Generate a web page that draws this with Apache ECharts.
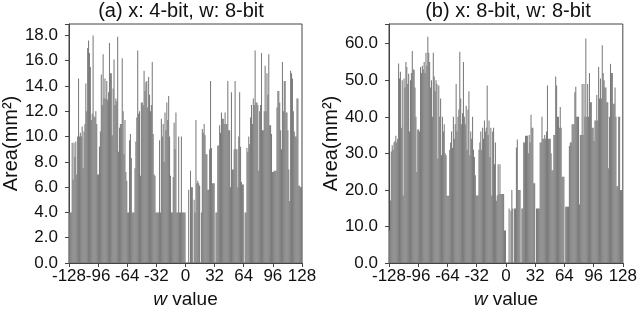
<!DOCTYPE html>
<html><head><meta charset="utf-8">
<script src="https://cdn.jsdelivr.net/npm/echarts@6/dist/echarts.min.js"></script>
<style>html,body{margin:0;padding:0;background:#fff}#c{width:640px;height:318px}</style>
</head><body><div id="c"></div><script>
// first w value of each panel (w runs -128 .. 127)
const wFirst = -128;
const titleA = '(a) x: 4-bit, w: 8-bit';
const titleB = '(b) x: 8-bit, w: 8-bit';

// Panel (a): area for w = -128..-97, -96..-65, ... , 96..127
const a1 = [4.0,4.0,4.0,9.5,6.6,9.5,8.4,9.6,7.0,10.0,14.6,10.0,10.3,10.0,10.8,7.5,10.4,11.0,14.2,12.0,17.0,17.6,16.6,15.5,11.3,11.8,18.0,11.6,11.5,12.0,11.0,7.0];
const a2 = [7.0,9.2,10.4,14.9,12.5,16.5,13.0,14.6,13.0,14.4,12.9,13.5,17.4,15.0,15.0,10.1,13.8,16.1,12.5,13.0,12.8,17.9,8.8,10.7,11.0,11.0,16.2,12.0,8.6,11.3,7.2,6.5];
const a3 = [4.0,4.0,9.7,10.2,8.3,4.0,4.0,4.0,7.5,9.6,11.5,16.8,11.8,12.0,6.9,12.7,12.7,12.5,15.2,13.6,14.3,14.4,12.3,14.7,13.3,12.0,12.5,15.9,10.2,7.0,6.9,4.0];
const a4 = [4.0,4.0,4.0,9.7,4.0,11.4,10.0,11.0,8.0,11.9,10.5,12.7,11.3,13.2,10.0,6.9,4.0,4.0,6.8,11.1,9.0,11.9,4.0,4.0,10.0,4.0,4.0,10.0,4.0,4.0,4.0,4.0];
const a5 = [0,0,0,5.8,0,7.3,6.0,6.0,0,5.0,4.0,11.3,6.3,6.5,6.3,6.1,0,4.0,10.6,10.3,11.0,10.1,8.6,8.6,5.8,5.8,9.0,14.4,9.1,6.3,6.3,6.3];
const a6 = [0,4.0,4.0,9.3,9.3,10.9,10.3,11.9,11.4,11.4,11.0,11.9,11.0,11.0,14.4,10.5,10.5,6.0,13.5,7.4,7.4,9.0,14.4,9.0,9.0,6.0,10.0,13.5,9.2,6.4,6.2,6.2];
const a7 = [0,4.0,4.0,9.1,8.8,10.0,9.4,11.5,12.5,11.0,13.0,12.5,16.8,12.7,12.7,12.5,7.3,12.0,12.5,16.6,10.5,10.5,12.0,15.6,12.0,15.0,13.3,16.5,10.9,10.9,10.2,7.2];
const a8 = [7.2,7.3,7.3,7.3,12.3,13.6,13.6,12.7,10.5,9.0,15.9,12.0,14.4,14.4,11.9,11.9,10.5,7.4,4.9,15.2,15.0,14.6,12.0,10.4,10.0,10.0,13.0,13.0,6.1,6.1,6.0,6.0];

// Panel (b)
const b1 = [8.9,17.1,30.5,32.2,31.0,33.0,33.4,34.8,33.0,34.0,54.6,50.5,52.3,37.0,50.0,18.5,50.5,48.0,55.0,53.6,49.0,51.8,36.0,50.0,52.0,58.0,53.0,52.8,48.0,40.0,24.9,36.5];
const b2 = [36.5,36.0,53.6,52.0,54.0,53.0,55.0,52.0,57.5,54.0,61.9,57.5,55.0,48.0,50.0,40.0,57.5,51.0,47.0,50.0,49.0,28.5,48.6,40.0,45.0,29.5,40.0,36.0,38.0,30.0,29.5,18.4];
const b3 = [18.4,18.4,31.0,33.0,36.0,31.5,40.0,34.0,38.0,49.0,36.0,40.0,42.0,57.8,45.0,38.0,41.0,55.0,40.0,38.0,43.0,31.0,42.0,47.0,29.5,36.0,34.0,40.0,31.0,29.0,24.0,18.5];
const b4 = [18.5,18.5,31.0,33.0,36.0,31.0,37.0,34.0,39.0,36.0,37.0,48.6,35.0,39.0,29.0,37.0,18.5,36.0,37.0,27.0,33.0,17.0,18.5,27.0,18.9,27.0,18.9,18.9,18.9,18.9,8.9,8.9];
const b5 = [0,0,0,14.9,0,14.4,20.0,14.9,0,14.9,14.9,31.6,33.8,20.0,20.0,20.0,0,14.9,14.9,33.0,33.0,34.8,34.8,34.8,30.0,35.0,33.0,40.6,37.0,37.0,21.8,21.8];
const b6 = [0,14.9,14.9,14.9,14.9,33.0,33.0,40.0,34.0,34.0,35.0,34.0,36.0,48.6,34.0,34.0,34.0,30.0,25.4,25.4,35.0,35.0,51.0,48.6,40.0,40.0,37.0,42.7,37.0,23.6,23.6,23.6];
const b7 = [0,15.4,15.4,15.4,15.4,32.0,33.0,33.0,38.0,38.0,38.0,46.7,48.2,40.0,40.0,40.0,16.0,35.0,35.0,49.0,35.0,49.0,40.0,61.4,40.0,49.0,40.0,52.0,44.0,44.0,37.0,37.0];
const b8 = [33.4,39.0,39.0,46.0,39.0,53.6,45.0,50.5,45.0,59.6,52.0,50.0,48.0,48.0,44.0,44.0,25.9,40.0,54.5,52.0,52.0,43.6,43.6,48.0,40.0,21.0,21.0,40.0,40.0,20.0,20.0,20.0];

const areaA = [].concat(a1,a2,a3,a4,a5,a6,a7,a8);
const areaB = [].concat(b1,b2,b3,b4,b5,b6,b7,b8);

// each bar covers [w, w+1] on the value axis
const toPairs = arr => arr.map((v, i) => [wFirst + i + 0.5, v]);

const FONT = '"Liberation Sans", Arial, sans-serif';
const AX = '#444';
const TXT = '#111';
function xAx(gi) {
  return {
    type: 'value', gridIndex: gi, min: -128, max: 128, interval: 32,
    axisLine: {show: true, onZero: false, lineStyle: {color: AX}},
    axisTick: {show: true, inside: false, length: 4, lineStyle: {color: AX}},
    splitLine: {show: false},
    axisLabel: {fontSize: 17, color: TXT, fontFamily: FONT, margin: 5,
      showMinLabel: true, showMaxLabel: true, hideOverlap: false},
    name: '{i|w} value', nameLocation: 'middle', nameGap: 27,
    nameTextStyle: {fontSize: 19, color: TXT, fontFamily: FONT,
      rich: {i: {fontStyle: 'italic', fontSize: 19, color: TXT, fontFamily: FONT}}}
  };
}
function yAx(gi, max, step, gap) {
  return {
    type: 'value', gridIndex: gi, min: 0, max: max, interval: step,
    axisLine: {show: true, onZero: false, lineStyle: {color: AX}},
    axisTick: {show: true, inside: false, length: 4, lineStyle: {color: AX}},
    splitLine: {show: false},
    axisLabel: {fontSize: 17, color: TXT, fontFamily: FONT, margin: 11,
      showMinLabel: true, hideOverlap: false,
      formatter: v => (Math.abs(v / step - Math.round(v / step)) < 1e-6 ? v.toFixed(1) : '')},
    name: 'Area(mm²)', nameLocation: 'middle', nameGap: gap,
    nameTextStyle: {fontSize: 20, color: TXT, fontFamily: FONT}
  };
}
const chart = echarts.init(document.getElementById('c'), null, {renderer: 'canvas'});
chart.setOption({
  animation: false,
  backgroundColor: '#fff',
  graphic: [
    {type: 'text', x: 181, y: 1, style: {text: titleA, textAlign: 'center', textVerticalAlign: 'top', fill: TXT, font: '20px "Liberation Sans", Arial, sans-serif'}},
    {type: 'text', x: 508, y: 1, style: {text: titleB, textAlign: 'center', textVerticalAlign: 'top', fill: TXT, font: '20px "Liberation Sans", Arial, sans-serif'}}
  ],
  grid: [
    {left: 66, top: 24, width: 236, height: 239, show: true, borderColor: AX, borderWidth: 1, backgroundColor: 'transparent'},
    {left: 389, top: 24, width: 236, height: 239, show: true, borderColor: AX, borderWidth: 1, backgroundColor: 'transparent'}
  ],
  xAxis: [xAx(0), xAx(1)],
  yAxis: [yAx(0, 18.9, 2, 45), yAx(1, 65.4, 10, 37)],
  series: [
    {type: 'bar', xAxisIndex: 0, yAxisIndex: 0, data: toPairs(areaA), barWidth: '115%', itemStyle: {color: '#7b7b7b'}},
    {type: 'bar', xAxisIndex: 1, yAxisIndex: 1, data: toPairs(areaB), barWidth: '115%', itemStyle: {color: '#7b7b7b'}}
  ]
});
</script></body></html>
